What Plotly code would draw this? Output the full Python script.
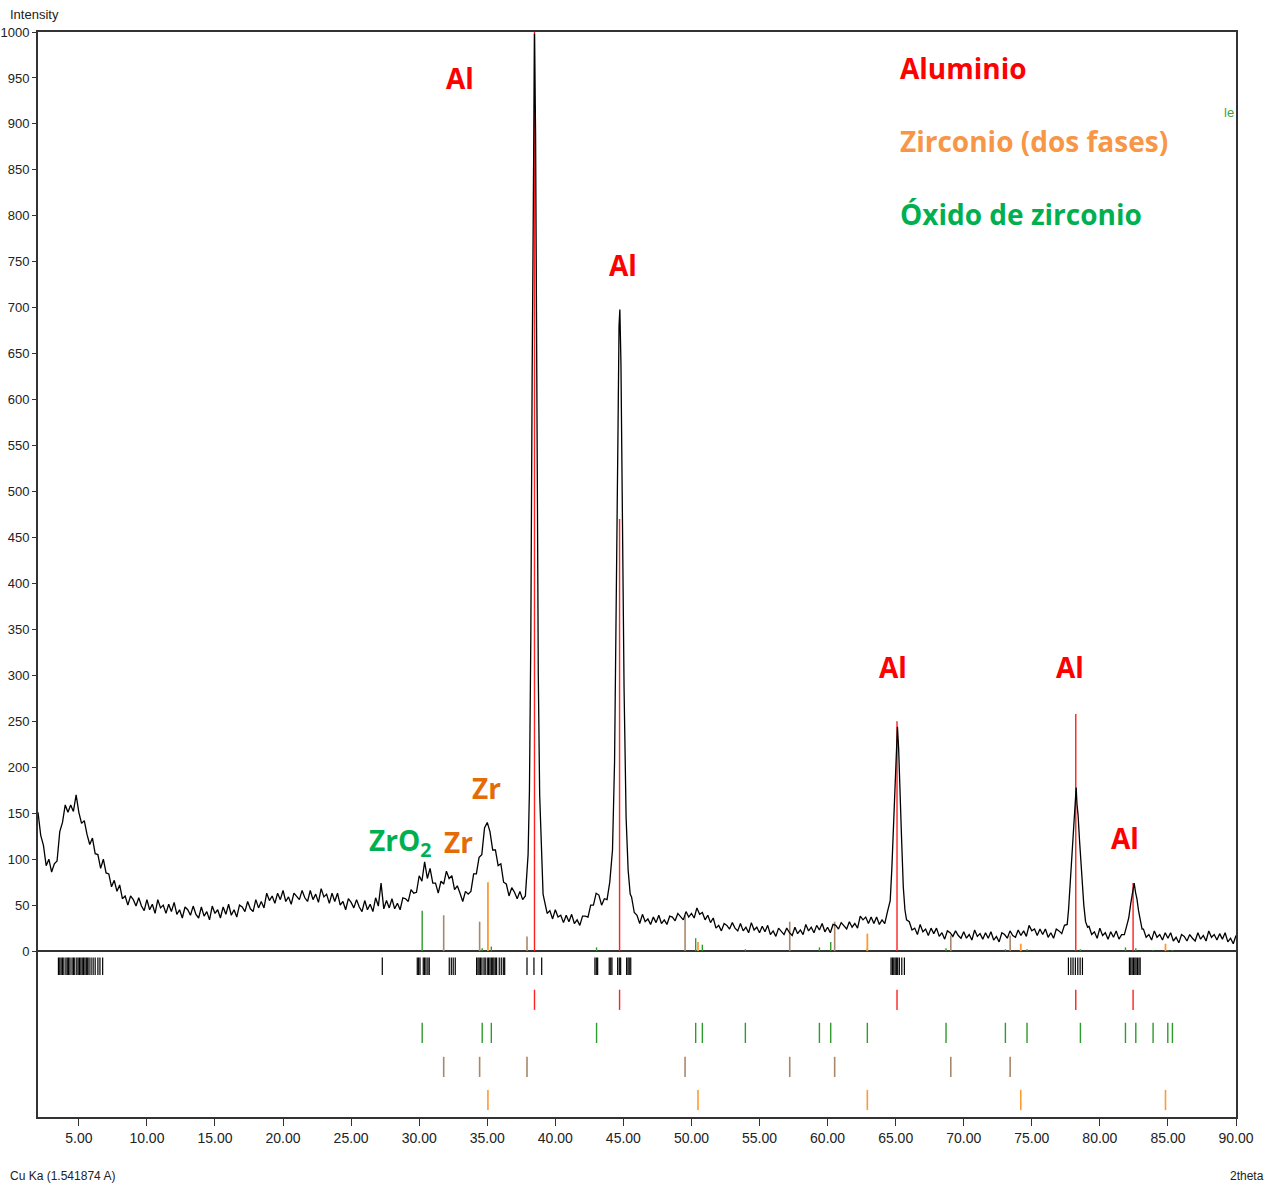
import plotly.graph_objects as go

# ---------------- measured pattern (2theta, intensity) ----------------
two_theta = [
    2.0, 2.2, 2.4, 2.6, 2.8, 3.0, 3.2, 3.4, 3.6, 3.8,
    4.0, 4.2, 4.4, 4.6, 4.8, 5.0, 5.2, 5.4, 5.6, 5.8,
    6.0, 6.2, 6.4, 6.6, 6.8, 7.0, 7.2, 7.4, 7.6, 7.8,
    8.0, 8.2, 8.4, 8.6, 8.8, 9.0, 9.2, 9.4, 9.6, 9.8,
    10.0, 10.2, 10.4, 10.6, 10.8, 11.0, 11.2, 11.4, 11.6, 11.8,
    12.0, 12.2, 12.4, 12.6, 12.8, 13.0, 13.2, 13.4, 13.6, 13.8,
    14.0, 14.2, 14.4, 14.6, 14.8, 15.0, 15.2, 15.4, 15.6, 15.8,
    16.0, 16.2, 16.4, 16.6, 16.8, 17.0, 17.2, 17.4, 17.6, 17.8,
    18.0, 18.2, 18.4, 18.6, 18.8, 19.0, 19.2, 19.4, 19.6, 19.8,
    20.0, 20.2, 20.4, 20.6, 20.8, 21.0, 21.2, 21.4, 21.6, 21.8,
    22.0, 22.2, 22.4, 22.6, 22.8, 23.0, 23.2, 23.4, 23.6, 23.8,
    24.0, 24.2, 24.4, 24.6, 24.8, 25.0, 25.2, 25.4, 25.6, 25.8,
    26.0, 26.2, 26.4, 26.6, 26.8, 27.0, 27.2, 27.4, 27.6, 27.8,
    28.0, 28.2, 28.4, 28.6, 28.8, 29.0, 29.2, 29.4, 29.6, 29.8,
    30.0, 30.2, 30.4, 30.6, 30.8, 31.0, 31.2, 31.4, 31.6, 31.8,
    32.0, 32.2, 32.4, 32.6, 32.8, 33.0, 33.2, 33.4, 33.6, 33.8,
    34.0, 34.2, 34.4, 34.6, 34.8, 35.0, 35.2, 35.4, 35.6, 35.8,
    36.0, 36.2, 36.4, 36.6, 36.8, 37.0, 37.2, 37.4, 37.6, 37.8,
    38.0, 38.1, 38.2, 38.3, 38.4, 38.47, 38.55, 38.65, 38.75, 38.85, 39.0, 39.1,
    39.2, 39.4, 39.6, 39.8, 40.0, 40.2, 40.4, 40.6, 40.8, 41.0,
    41.2, 41.4, 41.6, 41.8, 42.0, 42.2, 42.4, 42.6, 42.8, 43.0,
    43.2, 43.4, 43.6, 43.8, 44.0,
    44.2, 44.35, 44.5, 44.6, 44.68, 44.74, 44.82, 44.92, 45.05, 45.2, 45.35, 45.5,
    45.6, 45.8, 46.0, 46.2, 46.4, 46.6, 46.8, 47.0, 47.2, 47.4,
    47.6, 47.8, 48.0, 48.2, 48.4, 48.6, 48.8, 49.0, 49.2, 49.4,
    49.6, 49.8, 50.0, 50.2, 50.4, 50.6, 50.8, 51.0, 51.2, 51.4,
    51.6, 51.8, 52.0, 52.2, 52.4, 52.6, 52.8, 53.0, 53.2, 53.4,
    53.6, 53.8, 54.0, 54.2, 54.4, 54.6, 54.8, 55.0, 55.2, 55.4,
    55.6, 55.8, 56.0, 56.2, 56.4, 56.6, 56.8, 57.0, 57.2, 57.4,
    57.6, 57.8, 58.0, 58.2, 58.4, 58.6, 58.8, 59.0, 59.2, 59.4,
    59.6, 59.8, 60.0, 60.2, 60.4, 60.6, 60.8, 61.0, 61.2, 61.4,
    61.6, 61.8, 62.0, 62.2, 62.4, 62.6, 62.8, 63.0, 63.2, 63.4,
    63.6, 63.8, 64.0, 64.2, 64.4,
    64.6, 64.72, 64.83, 64.93, 65.03, 65.13, 65.22, 65.32, 65.44, 65.56, 65.68, 65.8,
    66.0, 66.2, 66.4, 66.6, 66.8, 67.0, 67.2, 67.4, 67.6, 67.8,
    68.0, 68.2, 68.4, 68.6, 68.8, 69.0, 69.2, 69.4, 69.6, 69.8,
    70.0, 70.2, 70.4, 70.6, 70.8, 71.0, 71.2, 71.4, 71.6, 71.8,
    72.0, 72.2, 72.4, 72.6, 72.8, 73.0, 73.2, 73.4, 73.6, 73.8,
    74.0, 74.2, 74.4, 74.6, 74.8, 75.0, 75.2, 75.4, 75.6, 75.8,
    76.0, 76.2, 76.4, 76.6, 76.8, 77.0, 77.2, 77.4, 77.6,
    77.7, 77.82, 77.94, 78.05, 78.12, 78.2, 78.26, 78.32, 78.4, 78.5,
    78.6, 78.72, 78.82, 78.95, 79.1,
    79.2, 79.4, 79.6, 79.8, 80.0, 80.2, 80.4, 80.6, 80.8, 81.0,
    81.2, 81.4, 81.6, 81.8, 82.0,
    82.12, 82.27, 82.4, 82.52, 82.62, 82.72, 82.84, 82.96, 83.1,
    83.2, 83.4, 83.6, 83.8, 84.0, 84.2, 84.4, 84.6, 84.8, 85.0,
    85.2, 85.4, 85.6, 85.8, 86.0, 86.2, 86.4, 86.6, 86.8, 87.0,
    87.2, 87.4, 87.6, 87.8, 88.0, 88.2, 88.4, 88.6, 88.8, 89.0,
    89.2, 89.4, 89.6, 89.8, 90.0,
]
intensity = [
    151, 126, 115, 93, 100, 86, 95, 98, 130, 140,
    159, 151, 159, 152, 170, 151, 139, 142, 127, 116,
    123, 106, 105, 90, 100, 85, 84, 70, 77, 65,
    72, 57, 60, 50, 60, 56, 49, 58, 49, 44,
    56, 45, 51, 41, 56, 47, 50, 41, 51, 43,
    53, 40, 45, 36, 48, 45, 39, 49, 40, 36,
    48, 38, 43, 34, 49, 41, 45, 36, 48, 40,
    51, 39, 45, 37, 50, 48, 43, 54, 46, 43,
    56, 47, 54, 47, 63, 55, 60, 52, 63, 56,
    66, 54, 59, 51, 63, 60, 56, 66, 58, 54,
    66, 56, 62, 53, 68, 59, 62, 52, 63, 54,
    63, 50, 54, 45, 57, 53, 47, 56, 48, 43,
    55, 45, 51, 43, 58, 49, 74, 46, 55, 47,
    57, 46, 52, 45, 58, 57, 54, 67, 63, 64,
    82, 76, 97, 79, 90, 74, 74, 63, 76, 73,
    87, 79, 82, 67, 71, 63, 54, 65, 62, 65,
    84, 84, 102, 105, 134, 140, 130, 110, 110, 93,
    95, 75, 73, 60, 69, 64, 57, 65, 56, 60,
    105, 175, 340, 630, 930, 998, 890, 560, 300, 170, 95, 62,
    55, 41, 44, 35, 45, 37, 39, 31, 39, 32,
    40, 30, 34, 28, 38, 38, 37, 50, 50, 63,
    61, 50, 57, 56, 75,
    110, 205, 385, 560, 680, 698, 640, 470, 285, 145, 88, 62,
    59, 42, 39, 30, 40, 32, 35, 29, 37, 31,
    39, 30, 34, 29, 38, 37, 33, 41, 37, 34,
    43, 37, 41, 36, 47, 40, 42, 34, 39, 31,
    36, 25, 28, 22, 30, 28, 24, 31, 25, 22,
    30, 22, 26, 20, 31, 23, 26, 20, 27, 21,
    28, 18, 22, 16, 25, 22, 18, 25, 20, 17,
    26, 19, 23, 18, 29, 22, 26, 20, 28, 23,
    30, 21, 26, 20, 29, 28, 24, 31, 27, 24,
    32, 26, 30, 25, 38, 34, 37, 30, 37, 30,
    37, 29, 34, 30, 43,
    55, 90, 135, 180, 219, 244, 220, 182, 120, 70, 45, 34,
    32, 23, 25, 18, 29, 21, 24, 17, 25, 19,
    25, 16, 20, 13, 22, 20, 16, 22, 17, 14,
    21, 14, 18, 12, 23, 16, 19, 13, 20, 14,
    21, 12, 16, 10, 20, 18, 14, 22, 17, 15,
    23, 17, 22, 16, 28, 22, 24, 17, 24, 18,
    24, 15, 20, 14, 24, 22, 19, 28, 29,
    45, 75, 103, 130, 150, 170, 178, 160, 148, 122,
    100, 70, 50, 32, 26,
    27, 18, 21, 14, 25, 17, 20, 13, 21, 15,
    22, 13, 18, 18, 29,
    36, 52, 66, 74, 64, 57, 44, 34, 24,
    24, 15, 18, 12, 22, 15, 18, 12, 20, 14,
    20, 11, 15, 9, 18, 16, 11, 18, 14, 11,
    20, 13, 17, 11, 22, 15, 18, 12, 19, 13,
    20, 10, 14, 8, 17,
]

# ---------------- reference phase patterns ----------------
al_pos = [38.47, 44.72, 65.10, 78.23, 82.44]
al_int = [1000, 470, 250, 258, 74]

zro2_pos = [30.22, 34.63, 35.30, 43.03, 50.31, 50.80, 53.96, 59.40, 60.23, 62.92,
            68.70, 73.06, 74.65, 78.57, 81.88, 82.64, 83.91, 84.99, 85.33]
zro2_int = [44, 3, 5, 4, 14, 7, 2, 4, 10, 3,
            3, 2, 2, 2, 4, 3, 1, 1, 1]

zr1_pos = [31.80, 34.44, 37.92, 49.53, 57.22, 60.52, 69.05, 73.41]
zr1_int = [39, 32, 16, 39, 32, 32, 17, 17]

zr2_pos = [35.05, 50.48, 62.92, 74.19, 84.82]
zr2_int = [75, 10, 19, 8, 8]

peak_list_pos = [
    3.50, 3.60, 3.70, 3.80, 3.90, 4.05, 4.15, 4.25, 4.35, 4.50, 4.60, 4.70, 4.85, 4.95,
    5.05, 5.15, 5.25, 5.35, 5.45, 5.55, 5.65, 5.75, 5.90, 6.05, 6.20, 6.40, 6.55, 6.75,
    27.29, 29.86, 29.96, 30.06, 30.30, 30.40, 30.50, 30.64, 30.74,
    32.21, 32.36, 32.50, 32.65,
    34.22, 34.32, 34.41, 34.51, 34.61, 34.76, 34.85, 35.00, 35.10, 35.20, 35.30, 35.40,
    35.49, 35.59, 35.69, 35.88, 36.03, 36.18, 36.28,
    37.92, 38.43, 39.00,
    42.91, 43.01, 43.11, 43.96, 44.07, 44.16, 44.58, 44.70, 44.80, 45.24, 45.34, 45.43, 45.54,
    64.66, 64.76, 64.86, 64.96, 65.05, 65.15, 65.27, 65.45, 65.64,
    77.69, 77.87, 78.03, 78.20, 78.38, 78.55, 78.72,
    82.17, 82.27, 82.37, 82.47, 82.57, 82.66, 82.76, 82.87, 82.96,
]

x_tick_vals = [5, 10, 15, 20, 25, 30, 35, 40, 45, 50, 55, 60, 65, 70, 75, 80, 85, 90]
y_tick_vals = list(range(0, 1001, 50))

# ---------------- helpers ----------------
def sticks(pos, y0, y1):
    xs, ys = [], []
    for i, p in enumerate(pos):
        a = y0[i] if isinstance(y0, list) else y0
        b = y1[i] if isinstance(y1, list) else y1
        xs += [p, p, None]
        ys += [a, b, None]
    return xs, ys

RED = "#FF2020"
GREEN = "#2E9B2E"
BROWN = "#A9876A"
ORANGE = "#FF9A33"

fig = go.Figure()

# phase sticks on the pattern (under the measured curve)
for pos, ints, col, w in [(zr1_pos, zr1_int, BROWN, 1.6), (zro2_pos, zro2_int, GREEN, 1.4),
                          (zr2_pos, zr2_int, ORANGE, 1.8), (al_pos, al_int, RED, 1.4)]:
    xs, ys = sticks(pos, 0, ints)
    fig.add_trace(go.Scatter(x=xs, y=ys, mode="lines", line=dict(color=col, width=w),
                             hoverinfo="skip"))

# measured curve
fig.add_trace(go.Scatter(x=two_theta, y=intensity, mode="lines",
                         line=dict(color="black", width=1.3), hoverinfo="skip"))

# rows of reference positions below the pattern
rows = [
    (peak_list_pos, -7, -26, "black", 1.2),
    (al_pos, -42, -64, RED, 1.4),
    (zro2_pos, -78, -100, GREEN, 1.4),
    (zr1_pos, -115, -137, BROWN, 1.6),
    (zr2_pos, -151, -173, ORANGE, 1.6),
]
for pos, a, b, col, w in rows:
    xs, ys = sticks(pos, a, b)
    fig.add_trace(go.Scatter(x=xs, y=ys, mode="lines", line=dict(color=col, width=w),
                             hoverinfo="skip"))

# ---------------- annotations ----------------
LBL = "Open Sans, Noto Sans, sans-serif"
ann = []
for x, y in [(33.0, 950), (44.97, 746), (64.81, 309), (77.81, 309), (81.86, 123)]:
    ann.append(dict(x=x, y=y, text="<b>Al</b>", font=dict(family=LBL, size=28, color="#FF0000")))
ann.append(dict(x=34.98, y=178, text="<b>Zr</b>", font=dict(family=LBL, size=28, color="#E36C09")))
ann.append(dict(x=32.92, y=119, text="<b>Zr</b>", font=dict(family=LBL, size=28, color="#E36C09")))
ann.append(dict(x=28.59, y=119, text="<b>ZrO<sub>2</sub></b>", font=dict(family=LBL, size=28, color="#00B050")))
for txt, y, col in [("Aluminio", 961, "#FF0000"), ("Zirconio (dos fases)", 881, "#F79646"),
                    ("Óxido de zirconio", 802, "#00B050")]:
    ann.append(dict(x=65.18, y=y, xanchor="left", text="<b>" + txt + "</b>",
                    font=dict(family=LBL, size=28, color=col)))
ann.append(dict(x=89.5, y=912, text="le", xanchor="center",
                font=dict(family="Liberation Sans, sans-serif", size=13, color="#3FA52F")))
for a in ann:
    a.setdefault("xref", "x")
    a.setdefault("yref", "y")
    a.setdefault("showarrow", False)

TICKF = "Liberation Sans, Arial, sans-serif"
ann.append(dict(xref="paper", yref="paper", x=-0.025, y=1.0, xanchor="left", yanchor="bottom",
                yshift=8, text="Intensity", showarrow=False,
                font=dict(family=TICKF, size=13, color="#222")))
ann.append(dict(xref="paper", yref="paper", x=-0.025, y=0, xanchor="left", yanchor="top",
                yshift=-50, text="Cu Ka (1.541874 A)", showarrow=False,
                font=dict(family=TICKF, size=12, color="#222")))
ann.append(dict(xref="paper", yref="paper", x=0.993, y=0, xanchor="left", yanchor="top",
                yshift=-50, text="2theta", showarrow=False,
                font=dict(family=TICKF, size=12, color="#222")))

fig.update_layout(
    width=1267, height=1185,
    margin=dict(l=38, r=31, t=32, b=68),
    paper_bgcolor="white", plot_bgcolor="white",
    showlegend=False,
    annotations=ann,
    xaxis=dict(range=[2, 90], tickvals=x_tick_vals, automargin=False,
               ticktext=[f"{v:.2f}" for v in x_tick_vals],
               showgrid=False, zeroline=False, showline=True, linecolor="#333",
               linewidth=2, mirror=True, ticks="outside", ticklen=7, tickcolor="#333",
               tickfont=dict(family=TICKF, size=14, color="#222")),
    yaxis=dict(range=[-180.5, 1000], tickvals=y_tick_vals, automargin=False,
               showgrid=False, zeroline=True, zerolinecolor="#333", zerolinewidth=2,
               showline=True, linecolor="#333", linewidth=2, mirror=True,
               ticks="outside", ticklen=4, tickcolor="#333",
               tickfont=dict(family=TICKF, size=13, color="#222")),
)

# remove the default page margin so the figure fills the window exactly
fig.write_html("out.html", config={"displayModeBar": False},
               post_script="document.body.style.margin='0';document.body.style.overflow='hidden';")
